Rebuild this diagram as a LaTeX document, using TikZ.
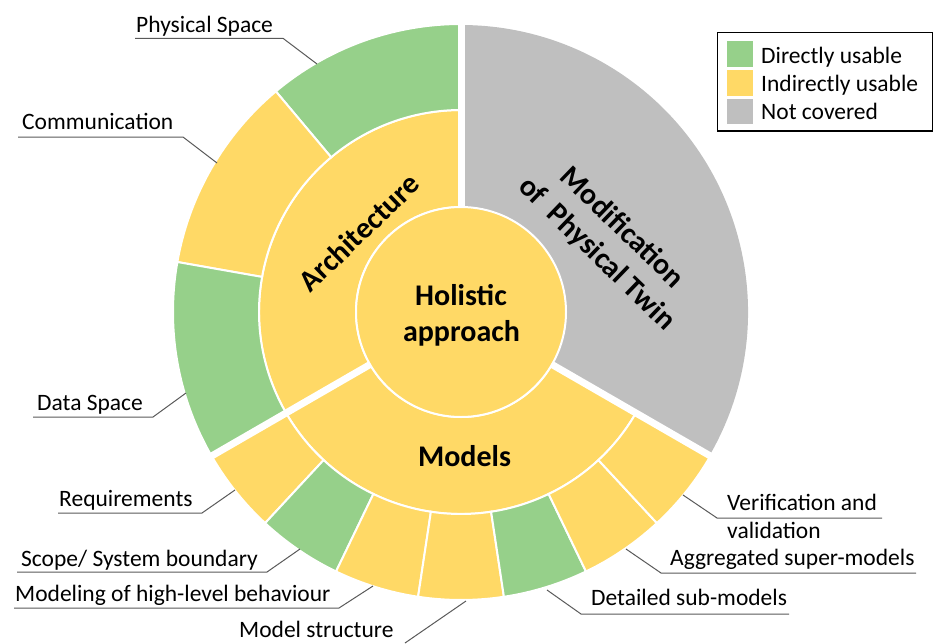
\documentclass[tikz,border=0pt]{standalone}
\usepackage{fontspec}
\setmainfont{Carlito}
\definecolor{cgreen}{RGB}{150,208,138}
\definecolor{cyellow}{RGB}{255,217,102}
\definecolor{cgray}{RGB}{191,191,191}
\definecolor{leadcol}{RGB}{89,89,89}
\newcommand\sunseg[5]{\filldraw[fill=#1,draw=white,line width=2pt] ([shift={(#2:#4)}]C) arc[start angle=#2,end angle=#3,radius=#4] -- ([shift={(#3:#5)}]C) arc[start angle=#3,end angle=#2,radius=#5] -- cycle;}
\tikzset{
  lbl/.style={anchor=base west,inner sep=0pt,font=\fontsize{23.5}{28}\selectfont},
  big/.style={anchor=base,inner sep=0pt,font=\fontsize{30}{36.6}\selectfont\bfseries},
  leadline/.style={draw=leadcol,line width=1pt},
}
\begin{document}
\begin{tikzpicture}[x=1pt,y=1pt]
\useasboundingbox (0,0) rectangle (934,-643);
\coordinate (C) at (461,-312);
% gray sector
\fill[cgray] (C) -- ([shift={(-30:287)}]C) arc[start angle=-30,end angle=90,radius=287] -- cycle;
% architecture
\sunseg{cyellow}{90}{210}{105}{202}
\sunseg{cgreen}{90}{130}{202}{288}
\sunseg{cyellow}{130}{170}{202}{288}
\sunseg{cgreen}{170}{210}{202}{288}
% models
\sunseg{cyellow}{210}{330}{105}{202}
\foreach \a/\b/\c in {210/227.1429/cyellow,227.1429/244.2857/cgreen,244.2857/261.4286/cyellow,261.4286/278.5714/cyellow,278.5714/295.7143/cgreen,295.7143/312.8571/cyellow,312.8571/330/cyellow}
  {\sunseg{\c}{\a}{\b}{202}{288}}
% main gaps
\foreach \a in {90,210,330}
  \draw[white,line width=7pt] ([shift={(\a:100)}]C) -- ([shift={(\a:292)}]C);
% inner circle
\filldraw[fill=cyellow,draw=white,line width=2pt] (C) circle[radius=105];
% big labels
\node[big] (hol1) at (461,-305) {Holistic};
\node[big] (hol2) at (461.5,-341.7) {approach};
\node[big] (mod) at (464.5,-466) {Models};
\node[big,rotate=44] (arch) at (366,-240) {Architecture};
\node[big,rotate=-44] (mpt1) at (616,-234) {Modification};
\node[big,rotate=-44] (mpt2) at (591,-260) {of\ \ Physical Twin};
% outer labels
\node[lbl] (ps) at (136,-32.3) {Physical Space};
\coordinate (psA) at (135,-38.3); \coordinate (psB) at (283,-38.3); \coordinate (psC) at (317,-64);
\draw[leadline] (psA) -- (psB) -- (psC);
\node[lbl] (com) at (22,-129.3) {Communication};
\coordinate (comA) at (18,-137); \coordinate (comB) at (183,-137); \coordinate (comC) at (217,-163);
\draw[leadline] (comA) -- (comB) -- (comC);
\node[lbl] (ds) at (37,-410) {Data Space};
\coordinate (dsA) at (33,-417); \coordinate (dsB) at (153,-417); \coordinate (dsC) at (186,-393);
\draw[leadline] (dsA) -- (dsB) -- (dsC);
\node[lbl] (req) at (59,-506.7) {Requirements};
\coordinate (reqA) at (58,-513); \coordinate (reqB) at (202,-513); \coordinate (reqC) at (235,-490);
\draw[leadline] (reqA) -- (reqB) -- (reqC);
\node[lbl] (scp) at (21,-566) {Scope/ System boundary};
\coordinate (scpA) at (17,-572); \coordinate (scpB) at (267,-572); \coordinate (scpC) at (300,-549);
\draw[leadline] (scpA) -- (scpB) -- (scpC);
\node[lbl] (mhl) at (15,-601.7) {Modeling of high-level behaviour};
\coordinate (mhlA) at (14,-608); \coordinate (mhlB) at (339,-608); \coordinate (mhlC) at (373,-586);
\draw[leadline] (mhlA) -- (mhlB) -- (mhlC);
\node[lbl] (mst) at (239,-637) {Model structure};
\coordinate (mstB) at (405,-643); \coordinate (mstC) at (466,-601);
\draw[leadline] (mstB) -- (mstC);
\node[lbl] (dsm) at (591,-605) {Detailed sub-models};
\coordinate (dsmA) at (789,-614); \coordinate (dsmB) at (581,-614); \coordinate (dsmC) at (547,-590);
\draw[leadline] (dsmA) -- (dsmB) -- (dsmC);
\node[lbl] (asm) at (670,-565.7) {Aggregated super-models};
\coordinate (asmA) at (916,-573); \coordinate (asmB) at (661,-573); \coordinate (asmC) at (626,-549);
\draw[leadline] (asmA) -- (asmB) -- (asmC);
\node[lbl] (vv1) at (727,-510.7) {Verification and};
\node[lbl] (vv2) at (727,-538.3) {validation};
\coordinate (vvA) at (882,-518); \coordinate (vvB) at (717,-518); \coordinate (vvC) at (683,-495);
\draw[leadline] (vvA) -- (vvB) -- (vvC);
% legend
\draw[black,line width=1.2pt] (717.3,-32.7) rectangle (932.5,-131);
\fill[cgreen] (726.7,-41) rectangle (752.7,-66.7);
\fill[cyellow] (726.7,-70) rectangle (752.7,-95.7);
\fill[cgray] (726.7,-99) rectangle (752.7,-124.3);
\node[lbl] (lg1) at (761,-63.3) {Directly usable};
\node[lbl] (lg2) at (761,-91.7) {Indirectly usable};
\node[lbl] (lg3) at (761,-119.3) {Not covered};
\end{tikzpicture}
\end{document}
